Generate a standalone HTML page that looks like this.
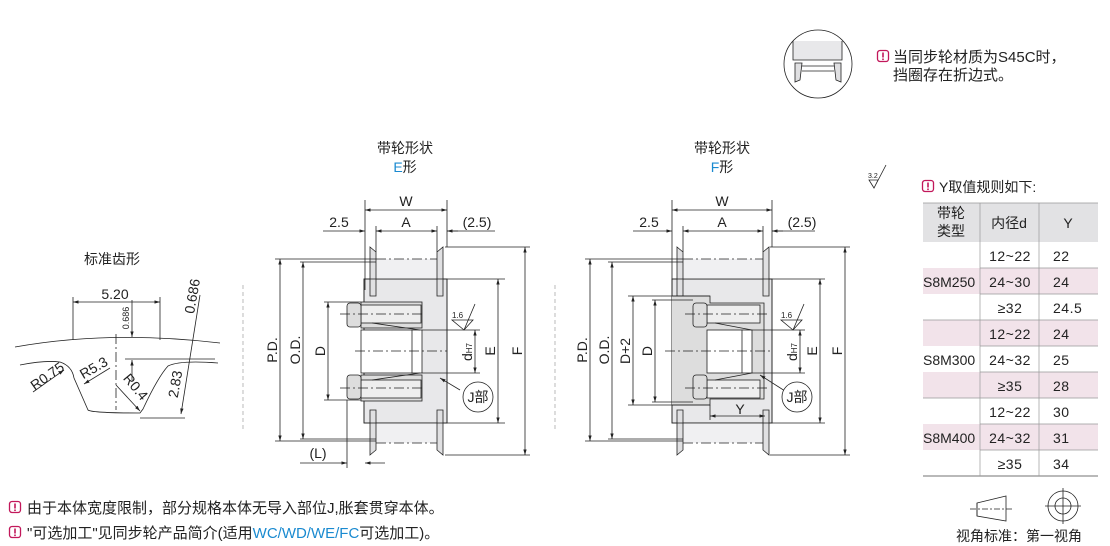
<!DOCTYPE html>
<html><head><meta charset="utf-8"><style>
body{margin:0;background:#fff;width:1110px;height:546px;overflow:hidden;font-family:"Liberation Sans","Noto Sans CJK SC",sans-serif}
svg{display:block}
text{font-family:"Liberation Sans","Noto Sans CJK SC",sans-serif;fill:#222}
</style></head><body>
<svg width="1110" height="546" viewBox="0 0 1110 546" xmlns="http://www.w3.org/2000/svg">
<defs>
<marker id="a" viewBox="0 0 10 10" refX="10" refY="5" markerWidth="7" markerHeight="7" orient="auto-start-reverse"><path d="M0,2 L10,5 L0,8z" fill="#222"/></marker>
<g id="warn"><rect x="0.5" y="0.5" width="11" height="11" rx="2.5" fill="#fff" stroke="#c2185b" stroke-width="1.3"/><rect x="5.2" y="2.5" width="1.6" height="5" fill="#c2185b"/><rect x="5.2" y="8.5" width="1.6" height="1.6" fill="#c2185b"/></g>
</defs>
<g stroke="#222" stroke-width="0.8" fill="none">

<path d="M15,347 Q110,330 220,343"/>
<path d="M20,365 Q45,360 60,362 Q72,366 74,378 L88,410 Q92,413 140,413 L143,409 Q158,377 168,366 Q180,360 218,363"/>
<line x1="73" y1="297" x2="73" y2="340"/><line x1="160" y1="297" x2="160" y2="340"/>
<line x1="73" y1="302" x2="160" y2="302" marker-start="url(#a)" marker-end="url(#a)"/>
<line x1="116" y1="334" x2="116" y2="410" stroke-dasharray="10,3,2,3"/>
<line x1="132" y1="300" x2="132" y2="337" marker-end="url(#a)"/>
<line x1="132" y1="380" x2="132" y2="360" marker-end="url(#a)"/>
<line x1="125" y1="359" x2="215" y2="359"/>
<line x1="200" y1="295" x2="181" y2="414" marker-end="url(#a)"/>
<line x1="140" y1="418" x2="185" y2="418"/>
<line x1="33" y1="392" x2="64" y2="370" marker-end="url(#a)"/>
<line x1="110" y1="368" x2="84" y2="384" marker-end="url(#a)"/>
<line x1="116" y1="385" x2="140" y2="411" marker-end="url(#a)"/>

<line x1="243" y1="285" x2="243" y2="430" stroke="#aaa" stroke-dasharray="4,3"/>
<line x1="555" y1="285" x2="555" y2="430" stroke="#aaa" stroke-dasharray="4,3"/>

<!-- E pulley -->
<rect x="364" y="279" width="83" height="144" fill="#e8e8ea"/>
<rect x="376" y="259" width="61" height="20" fill="#f0f0f2" stroke="none"/>
<rect x="376" y="423" width="61" height="20" fill="#f0f0f2" stroke="none"/>
<path d="M370,247 L376,252 L376,296 L370,296Z M437,252 L443,247 L443,296 L437,296Z" fill="#e0e0e2"/>
<path d="M370,455 L376,450 L376,410 L370,410Z M437,450 L443,455 L443,410 L437,410Z" fill="#e0e0e2"/>
<rect x="364" y="279" width="83" height="144"/>
<rect x="361" y="330" width="61" height="43" fill="#fff"/>
<line x1="412" y1="330" x2="412" y2="373"/>
<rect x="361" y="302" width="61" height="26" fill="#ddd"/>
<rect x="361" y="375" width="61" height="26" fill="#ddd"/>
<rect x="361" y="305" width="60" height="18" fill="#eee"/>
<rect x="361" y="380" width="60" height="18" fill="#eee"/>
<rect x="347" y="303" width="14" height="24" rx="3" fill="#ddd"/>
<rect x="347" y="375" width="14" height="24" rx="3" fill="#ddd"/>
<path d="M372,323 L420,330 M372,380 L420,373"/>
<g stroke-dasharray="10,3,2,3"><line x1="340" y1="314" x2="425" y2="314"/><line x1="340" y1="388" x2="425" y2="388"/><line x1="355" y1="351" x2="447" y2="351"/><line x1="376" y1="259" x2="437" y2="259"/><line x1="376" y1="443" x2="437" y2="443"/></g>
<line x1="365" y1="200" x2="365" y2="290"/><line x1="447" y1="200" x2="447" y2="247"/>
<line x1="376" y1="226" x2="376" y2="252"/><line x1="437" y1="226" x2="437" y2="252"/>
<line x1="365" y1="210" x2="447" y2="210" marker-start="url(#a)" marker-end="url(#a)"/>
<line x1="376" y1="231" x2="437" y2="231" marker-start="url(#a)" marker-end="url(#a)"/>
<line x1="323" y1="231" x2="365" y2="231" marker-end="url(#a)"/><line x1="458" y1="231" x2="447" y2="231" marker-end="url(#a)"/><line x1="447" y1="231" x2="495" y2="231"/>
<line x1="275" y1="259" x2="376" y2="259"/><line x1="275" y1="441" x2="376" y2="441"/>
<line x1="280" y1="259" x2="280" y2="441" marker-start="url(#a)" marker-end="url(#a)"/>
<line x1="300" y1="262" x2="376" y2="262"/><line x1="300" y1="439" x2="376" y2="439"/>
<line x1="303" y1="262" x2="303" y2="439" marker-start="url(#a)" marker-end="url(#a)"/>
<line x1="324" y1="302" x2="361" y2="302"/><line x1="324" y1="400" x2="361" y2="400"/>
<line x1="328" y1="302" x2="328" y2="400" marker-start="url(#a)" marker-end="url(#a)"/>
<line x1="447" y1="279" x2="505" y2="279"/><line x1="447" y1="423" x2="505" y2="423"/>
<line x1="498" y1="279" x2="498" y2="423" marker-start="url(#a)" marker-end="url(#a)"/>
<line x1="445" y1="247" x2="530" y2="247"/><line x1="445" y1="455" x2="530" y2="455"/>
<line x1="525" y1="247" x2="525" y2="455" marker-start="url(#a)" marker-end="url(#a)"/>
<line x1="422" y1="330" x2="480" y2="330"/><line x1="422" y1="373" x2="480" y2="373"/>
<line x1="475" y1="330" x2="475" y2="373" marker-start="url(#a)" marker-end="url(#a)"/>
<line x1="347" y1="400" x2="347" y2="468"/>
<line x1="300" y1="463" x2="347" y2="463" marker-end="url(#a)"/><line x1="385" y1="463" x2="365" y2="463" marker-end="url(#a)"/>
<path d="M452,320 L473,320 L464,330Z M464,330 L475,304"/>
<line x1="440" y1="378" x2="460" y2="390" marker-start="url(#a)"/>
<circle cx="478" cy="397" r="15" fill="#fff"/>

<!-- F pulley -->
<rect x="672" y="279" width="100" height="144" fill="#e8e8ea"/>
<rect x="683" y="259" width="80" height="20" fill="#f0f0f2" stroke="none"/>
<rect x="683" y="423" width="80" height="20" fill="#f0f0f2" stroke="none"/>
<path d="M677,247 L683,252 L683,296 L677,296Z M763,252 L769,247 L769,296 L763,296Z" fill="#e0e0e2"/>
<path d="M677,455 L683,450 L683,410 L677,410Z M763,450 L769,455 L769,410 L763,410Z" fill="#e0e0e2"/>
<rect x="672" y="279" width="100" height="144"/>
<path d="M672,296 L710,296 L710,303 L764,303 L764,399 L710,399 L710,405 L672,405" fill="#ddd"/>
<rect x="707" y="330" width="45" height="43" fill="#fff"/>
<line x1="742" y1="330" x2="742" y2="373"/>
<rect x="707" y="305" width="53" height="18" fill="#eee"/>
<rect x="707" y="380" width="53" height="18" fill="#eee"/>
<rect x="693" y="303" width="14" height="24" rx="3" fill="#ddd"/>
<rect x="693" y="375" width="14" height="24" rx="3" fill="#ddd"/>
<path d="M715,323 L752,330 M715,380 L752,373"/>
<g stroke-dasharray="10,3,2,3"><line x1="685" y1="314" x2="770" y2="314"/><line x1="685" y1="388" x2="770" y2="388"/><line x1="665" y1="351" x2="772" y2="351"/><line x1="683" y1="259" x2="763" y2="259"/><line x1="683" y1="443" x2="763" y2="443"/></g>
<line x1="672" y1="200" x2="672" y2="290"/><line x1="772" y1="200" x2="772" y2="247"/>
<line x1="683" y1="226" x2="683" y2="252"/><line x1="763" y1="226" x2="763" y2="252"/>
<line x1="672" y1="210" x2="772" y2="210" marker-start="url(#a)" marker-end="url(#a)"/>
<line x1="683" y1="231" x2="763" y2="231" marker-start="url(#a)" marker-end="url(#a)"/>
<line x1="633" y1="231" x2="672" y2="231" marker-end="url(#a)"/><line x1="783" y1="231" x2="772" y2="231" marker-end="url(#a)"/><line x1="772" y1="231" x2="815" y2="231"/>
<line x1="585" y1="259" x2="683" y2="259"/><line x1="585" y1="441" x2="683" y2="441"/>
<line x1="590" y1="259" x2="590" y2="441" marker-start="url(#a)" marker-end="url(#a)"/>
<line x1="608" y1="262" x2="683" y2="262"/><line x1="608" y1="439" x2="683" y2="439"/>
<line x1="612" y1="262" x2="612" y2="439" marker-start="url(#a)" marker-end="url(#a)"/>
<line x1="628" y1="296" x2="710" y2="296"/><line x1="628" y1="405" x2="710" y2="405"/>
<line x1="633" y1="296" x2="633" y2="405" marker-start="url(#a)" marker-end="url(#a)"/>
<line x1="652" y1="300" x2="693" y2="300"/><line x1="652" y1="402" x2="693" y2="402"/>
<line x1="655" y1="300" x2="655" y2="402" marker-start="url(#a)" marker-end="url(#a)"/>
<line x1="772" y1="279" x2="825" y2="279"/><line x1="772" y1="423" x2="825" y2="423"/>
<line x1="820" y1="279" x2="820" y2="423" marker-start="url(#a)" marker-end="url(#a)"/>
<line x1="770" y1="247" x2="850" y2="247"/><line x1="770" y1="455" x2="850" y2="455"/>
<line x1="845" y1="247" x2="845" y2="455" marker-start="url(#a)" marker-end="url(#a)"/>
<line x1="752" y1="330" x2="805" y2="330"/><line x1="752" y1="373" x2="805" y2="373"/>
<line x1="800" y1="330" x2="800" y2="373" marker-start="url(#a)" marker-end="url(#a)"/>
<line x1="710" y1="405" x2="710" y2="420"/>
<line x1="710" y1="416" x2="765" y2="416" marker-start="url(#a)" marker-end="url(#a)"/>
<path d="M781,320 L802,320 L793,330Z M793,330 L804,304"/>
<line x1="760" y1="375" x2="785" y2="391" marker-start="url(#a)"/>
<circle cx="797" cy="397" r="15" fill="#fff"/>

<circle cx="818" cy="64" r="34"/>
<path d="M793,41 L793,60 L842,60 L842,41" fill="#e8e8ea"/>
<path d="M795,63 L802,63 L800,80 L795,82Z M834,63 L841,63 L841,82 L836,80Z" fill="#e0e0e2"/>
<line x1="802" y1="66" x2="834" y2="66"/><line x1="802" y1="71" x2="834" y2="71"/>
<path d="M869,180 L878,180 L874,188Z M874,188 L886,165"/>

<path d="M977,503 L1006,496 L1006,521 L977,516Z"/>
<line x1="970" y1="509" x2="1013" y2="509" stroke-dasharray="6,2,2,2"/>
<line x1="977" y1="503" x2="977" y2="516"/>
<circle cx="1063" cy="506" r="15"/><circle cx="1063" cy="506" r="8"/>
<line x1="1045" y1="506" x2="1081" y2="506"/><line x1="1063" y1="488" x2="1063" y2="524"/>
</g>

<rect x="923" y="203" width="175" height="39" fill="#e2e2e4"/>
<g fill="#f2e3ea">
<rect x="923" y="268" width="175" height="26"/><rect x="923" y="320" width="175" height="26"/><rect x="923" y="372" width="175" height="26"/><rect x="923" y="424" width="175" height="26"/>
</g>
<g stroke="#999" stroke-width="0.7">
<line x1="923" y1="203" x2="1098" y2="203"/><line x1="923" y1="476" x2="1098" y2="476" stroke="#444"/>
<line x1="980" y1="203" x2="980" y2="476"/><line x1="1039" y1="203" x2="1039" y2="476"/>
<line x1="980" y1="268" x2="1098" y2="268"/><line x1="980" y1="294" x2="1098" y2="294"/>
<line x1="923" y1="320" x2="1098" y2="320"/><line x1="980" y1="346" x2="1098" y2="346"/><line x1="980" y1="372" x2="1098" y2="372"/>
<line x1="923" y1="398" x2="1098" y2="398"/><line x1="980" y1="424" x2="1098" y2="424"/><line x1="980" y1="450" x2="1098" y2="450"/>
</g>

<g font-size="14">
<text x="951" y="218" text-anchor="middle">带轮</text><text x="951" y="236" text-anchor="middle">类型</text>
<text x="1009" y="228" text-anchor="middle">内径d</text><text x="1068" y="228" text-anchor="middle">Y</text>
<g text-anchor="middle" letter-spacing="0.5"><text x="1010" y="261">12~22</text><text x="1010" y="287">24~30</text><text x="1010" y="313">≥32</text><text x="1010" y="339">12~22</text><text x="1010" y="365">24~32</text><text x="1010" y="391">≥35</text><text x="1010" y="417">12~22</text><text x="1010" y="443">24~32</text><text x="1010" y="469">≥35</text></g>
<g letter-spacing="0.5"><text x="1053" y="261">22</text><text x="1053" y="287">24</text><text x="1053" y="313">24.5</text><text x="1053" y="339">24</text><text x="1053" y="365">25</text><text x="1053" y="391">28</text><text x="1053" y="417">30</text><text x="1053" y="443">31</text><text x="1053" y="469">34</text></g>
<text x="923" y="287">S8M250</text><text x="923" y="365">S8M300</text><text x="923" y="443">S8M400</text>
<text x="939" y="192">Y取值规则如下:</text>
<text x="956" y="541">视角标准：第一视角</text>

<text x="893" y="62" font-size="15">当同步轮材质为S45C时，</text>
<text x="893" y="80" font-size="15">挡圈存在折边式。</text>

<text x="27" y="513" font-size="15">由于本体宽度限制，部分规格本体无导入部位J,胀套贯穿本体。</text>
<text x="27" y="538" font-size="15">"可选加工"见同步轮产品简介(适用<tspan fill="#1a8ad0">WC/WD/WE/FC</tspan>可选加工)。</text>

<text x="84" y="264">标准齿形</text>
<text x="405" y="153" text-anchor="middle">带轮形状</text>
<text x="405" y="172" text-anchor="middle"><tspan fill="#1a8ad0">E</tspan>形</text>
<text x="722" y="153" text-anchor="middle">带轮形状</text>
<text x="722" y="172" text-anchor="middle"><tspan fill="#1a8ad0">F</tspan>形</text>

<text x="406" y="206" text-anchor="middle">W</text><text x="406" y="227" text-anchor="middle">A</text>
<text x="339" y="227" text-anchor="middle">2.5</text><text x="477" y="227" text-anchor="middle">(2.5)</text>
<text x="722" y="206" text-anchor="middle">W</text><text x="722" y="227" text-anchor="middle">A</text>
<text x="649" y="227" text-anchor="middle">2.5</text><text x="802" y="227" text-anchor="middle">(2.5)</text>
<text x="318" y="458" text-anchor="middle">(L)</text>
<text x="740" y="414" text-anchor="middle">Y</text>
<text x="478" y="402" text-anchor="middle">J部</text>
<text x="797" y="402" text-anchor="middle">J部</text>
<text x="115" y="299" text-anchor="middle">5.20</text>
</g>
<g font-size="14">
<text transform="translate(277,350) rotate(-90)" text-anchor="middle">P.D.</text>
<text transform="translate(300,350) rotate(-90)" text-anchor="middle">O.D.</text>
<text transform="translate(325,351) rotate(-90)" text-anchor="middle">D</text>
<text transform="translate(495,351) rotate(-90)" text-anchor="middle">E</text>
<text transform="translate(522,351) rotate(-90)" text-anchor="middle">F</text>
<text transform="translate(587,350) rotate(-90)" text-anchor="middle">P.D.</text>
<text transform="translate(609,350) rotate(-90)" text-anchor="middle">O.D.</text>
<text transform="translate(630,351) rotate(-90)" text-anchor="middle">D+2</text>
<text transform="translate(652,351) rotate(-90)" text-anchor="middle">D</text>
<text transform="translate(817,351) rotate(-90)" text-anchor="middle">E</text>
<text transform="translate(842,351) rotate(-90)" text-anchor="middle">F</text>
<text transform="translate(472,352) rotate(-90)" text-anchor="middle" fill="#a0288a">d<tspan font-size="8" fill="#222">H7</tspan></text>
<text transform="translate(797,352) rotate(-90)" text-anchor="middle" fill="#a0288a">d<tspan font-size="8" fill="#222">H7</tspan></text>
<text transform="translate(197,297) rotate(-80)" text-anchor="middle">0.686</text>
<text transform="translate(180,385) rotate(-80)" text-anchor="middle">2.83</text>
<text transform="translate(50,380) rotate(-35)" text-anchor="middle">R0.75</text>
<text transform="translate(96,372) rotate(-30)" text-anchor="middle">R5.3</text>
<text transform="translate(132,390) rotate(50)" text-anchor="middle">R0.4</text>
</g>
<text transform="translate(129,318) rotate(-90)" text-anchor="middle" font-size="9">0.686</text>
<text x="452" y="318" font-size="8">1.6</text><text x="781" y="318" font-size="8">1.6</text>
<text x="868" y="178" font-size="7">3.2</text>
<use href="#warn" x="9" y="501"/><use href="#warn" x="9" y="526"/>
<use href="#warn" x="877" y="50"/><use href="#warn" x="922" y="180"/>
</svg>
</body></html>
